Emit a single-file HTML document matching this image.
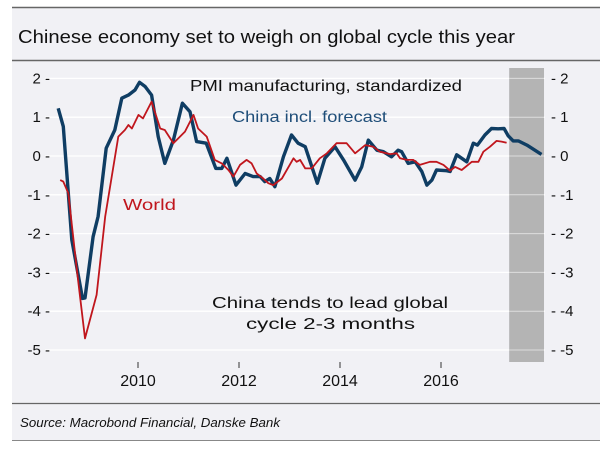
<!DOCTYPE html>
<html><head><meta charset="utf-8"><style>
body{margin:0;background:#fff;}
svg{display:block;font-family:"Liberation Sans",sans-serif;}
</style></head><body>
<svg id="chart" width="600" height="450">
<rect x="12" y="7" width="588" height="433" fill="#f1f1f5"/>
<line x1="12" y1="7.5" x2="600" y2="7.5" stroke="#666" stroke-width="1.5"/>
<text x="18" y="43" font-size="18" fill="#111" textLength="497" lengthAdjust="spacingAndGlyphs">Chinese economy set to weigh on global cycle this year</text>
<line x1="12" y1="60.5" x2="600" y2="60.5" stroke="#666" stroke-width="1.5"/>
<line x1="12" y1="403.5" x2="600" y2="403.5" stroke="#666" stroke-width="1.2"/>
<text x="20" y="427" font-size="13" font-style="italic" fill="#111" textLength="260" lengthAdjust="spacingAndGlyphs">Source: Macrobond Financial, Danske Bank</text>
<line x1="12" y1="440.5" x2="600" y2="440.5" stroke="#888" stroke-width="1"/>
<g id="grid"></g><g id="band"></g><g id="axes"></g><g id="series"></g>
<text x="190" y="91" font-size="16" fill="#111" textLength="272" lengthAdjust="spacingAndGlyphs">PMI manufacturing, standardized</text>
<text x="232" y="122" font-size="16" fill="#1f4e79" textLength="155" lengthAdjust="spacingAndGlyphs">China incl. forecast</text>
<text x="123" y="210" font-size="16" fill="#c0161d" textLength="53" lengthAdjust="spacingAndGlyphs">World</text>
<text x="212" y="308" font-size="16" fill="#111" textLength="236" lengthAdjust="spacingAndGlyphs">China tends to lead global</text>
<text x="246" y="329" font-size="16" fill="#111" textLength="169" lengthAdjust="spacingAndGlyphs">cycle 2-3 months</text>
</svg>
<script>
const yTicks=[2,1,0,-1,-2,-3,-4,-5];
const xTicks=[2010,2012,2014,2016];
const forecastRange=[2017.35,2018.04];
const chinaDates=[2008.42,2008.52,2008.69,2008.90,2008.95,2009.11,2009.21,2009.37,2009.54,2009.68,2009.81,2009.94,2010.03,2010.14,2010.27,2010.40,2010.53,2010.70,2010.88,2011.03,2011.16,2011.35,2011.54,2011.66,2011.76,2011.94,2012.12,2012.28,2012.42,2012.51,2012.61,2012.71,2012.88,2013.04,2013.17,2013.31,2013.55,2013.70,2013.90,2014.07,2014.30,2014.43,2014.56,2014.73,2014.86,2015.02,2015.15,2015.22,2015.35,2015.49,2015.62,2015.72,2015.82,2015.91,2016.11,2016.18,2016.31,2016.51,2016.64,2016.72,2016.87,2017.00,2017.13,2017.25,2017.33,2017.43,2017.53,2017.70,2017.99];
const chinaValues=[1.23,0.76,-2.16,-3.67,-3.66,-2.08,-1.56,0.2,0.67,1.49,1.57,1.70,1.90,1.79,1.57,0.50,-0.19,0.41,1.36,1.14,0.37,0.33,-0.32,-0.32,-0.06,-0.75,-0.45,-0.53,-0.53,-0.66,-0.58,-0.79,-0.02,0.54,0.33,0.24,-0.70,-0.06,0.24,-0.10,-0.62,-0.28,0.41,0.15,0.11,-0.02,0.15,0.11,-0.19,-0.15,-0.40,-0.75,-0.62,-0.36,-0.38,-0.40,0.03,-0.15,0.33,0.28,0.54,0.71,0.70,0.71,0.52,0.39,0.39,0.28,0.04];
const worldDates=[2008.46,2008.52,2008.62,2008.79,2008.95,2009.18,2009.35,2009.61,2009.74,2009.81,2009.88,2010.01,2010.10,2010.27,2010.44,2010.53,2010.70,2010.93,2011.10,2011.19,2011.36,2011.52,2011.66,2011.79,2011.89,2012.02,2012.15,2012.25,2012.35,2012.48,2012.58,2012.68,2012.85,2013.08,2013.14,2013.21,2013.31,2013.44,2013.60,2013.74,2013.93,2014.13,2014.30,2014.50,2014.66,2014.79,2014.99,2015.12,2015.19,2015.32,2015.45,2015.58,2015.78,2015.91,2016.05,2016.18,2016.28,2016.41,2016.61,2016.74,2016.84,2016.97,2017.10,2017.20,2017.30];
const worldValues=[-0.62,-0.66,-0.96,-2.94,-4.70,-3.58,-1.56,0.50,0.67,0.80,0.71,1.06,0.97,1.40,0.71,0.67,0.33,0.63,1.06,0.71,0.50,-0.10,-0.19,-0.36,-0.53,-0.23,-0.10,-0.19,-0.45,-0.58,-0.70,-0.75,-0.58,-0.06,-0.15,-0.10,-0.32,-0.32,-0.06,0.07,0.33,0.33,0.07,0.28,0.24,0.11,0.05,0.07,-0.06,-0.10,-0.10,-0.23,-0.15,-0.15,-0.23,-0.38,-0.28,-0.36,-0.15,-0.15,0.11,0.24,0.39,0.37,0.34];

const NS='http://www.w3.org/2000/svg';
const xS=t=>138+(t-2010)*50.5;
const yS=v=>156-v*38.8;
function mk(tag,attrs,parent){const e=document.createElementNS(NS,tag);for(const k in attrs)e.setAttribute(k,attrs[k]);document.getElementById(parent).appendChild(e);return e;}

yTicks.forEach(v=>{
  const g=mk('line',{x1:45,x2:545,y1:yS(v),y2:yS(v),stroke:'#fff','stroke-width':1.3},'grid');
  
  
  const l=mk('text',{x:50,y:yS(v)+5,'font-size':15,fill:'#111','text-anchor':'end'},'axes');
  l.textContent=v+' -';
  
  
  const r=mk('text',{x:551,y:yS(v)+5,'font-size':15,fill:'#111'},'axes');
  r.textContent='- '+v;
  
  
});
xTicks.forEach(t=>{
  const k=mk('line',{x1:xS(t),x2:xS(t),y1:362,y2:368,stroke:'#333','stroke-width':1},'axes');
  
  
  const l=mk('text',{x:xS(t),y:386,'font-size':16,fill:'#111','text-anchor':'middle'},'axes');
  l.textContent=t;
  
  
});
const b=mk('rect',{x:xS(forecastRange[0]),y:68,width:xS(forecastRange[1])-xS(forecastRange[0]),height:294,fill:'#b4b4b4'},'band');


yTicks.forEach(v=>{
  const g=mk('line',{x1:xS(forecastRange[0]),x2:xS(forecastRange[1]),y1:yS(v),y2:yS(v),stroke:'#ddd','stroke-width':1},'band');
  
  
});
function path(d,v){return d.map((t,i)=>(i?'L':'M')+xS(t).toFixed(1)+','+yS(v[i]).toFixed(1)).join('');}
const c=mk('path',{d:path(chinaDates,chinaValues),fill:'none',stroke:'#0f3d63','stroke-width':3.4,'stroke-linejoin':'round'},'series');


const w=mk('path',{d:path(worldDates,worldValues),fill:'none',stroke:'#c0161d','stroke-width':1.8,'stroke-linejoin':'round'},'series');


</script>
</body></html>
